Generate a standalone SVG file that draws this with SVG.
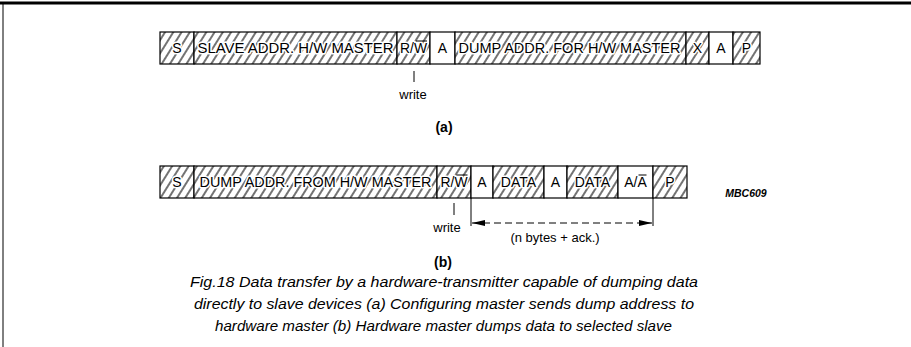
<svg xmlns="http://www.w3.org/2000/svg" width="911" height="347" viewBox="0 0 911 347">
<style>
.box{stroke:#000;stroke-width:1.2}
.h{fill:url(#hatch)}
.w{fill:#fff}
.t{font-family:"Liberation Sans",Arial,sans-serif;font-size:14px;fill:#000;text-anchor:middle;stroke:#fff;stroke-width:3;paint-order:stroke;stroke-linejoin:round}
.lbl{font-family:"Liberation Sans",Arial,sans-serif;font-size:13px;fill:#000;text-anchor:middle}
.b{font-weight:bold;font-size:14px}
.cap{font-family:"Liberation Sans",Arial,sans-serif;font-style:italic;font-size:14px;fill:#000;text-anchor:middle}
.ln{stroke:#000;stroke-width:1;fill:none}
.ov{stroke:#000;stroke-width:1}
</style>
<defs>
<pattern id="hatch" patternUnits="userSpaceOnUse" width="7" height="10" patternTransform="rotate(32)">
<rect width="7" height="10" fill="#fff"/>
<line x1="3" y1="0" x2="3" y2="10" stroke="#000" stroke-width="1.1"/>
</pattern>
<marker id="ah" markerWidth="14" markerHeight="8" refX="13" refY="4" orient="auto-start-reverse" markerUnits="userSpaceOnUse">
<path d="M0,1 L13,4 L0,7 Z" fill="#000"/>
</marker>
</defs>
<rect width="911" height="347" fill="#fff"/>
<g id="frame">
<line x1="0" y1="3" x2="911" y2="3" stroke="#000" stroke-width="3"/>
<line x1="3" y1="2" x2="3" y2="347" stroke="#000" stroke-width="1"/>
</g>
<g id="row-a">
<g id="a-S"><rect class="box h" x="160" y="32" width="34" height="32"/><text class="t" x="177" y="53">S</text></g>
<g id="a-slave"><rect class="box h" x="194" y="32" width="203" height="32"/><text class="t" x="295.5" y="53" textLength="196" lengthAdjust="spacingAndGlyphs">SLAVE ADDR. H/W MASTER</text></g>
<g id="a-rw"><rect class="box h" x="397" y="32" width="33" height="32"/><text class="t" x="413.5" y="53" textLength="27" lengthAdjust="spacingAndGlyphs">R/W</text><line class="ov" x1="416" y1="41" x2="427" y2="41"/></g>
<g id="a-A1"><rect class="box w" x="430" y="32" width="25" height="32"/><text class="t" x="442.5" y="53">A</text></g>
<g id="a-dump"><rect class="box h" x="455" y="32" width="231" height="32"/><text class="t" x="569.5" y="53" textLength="222" lengthAdjust="spacingAndGlyphs">DUMP ADDR. FOR H/W MASTER</text></g>
<g id="a-X"><rect class="box h" x="686" y="32" width="23" height="32"/><text class="t" x="697.5" y="53">X</text></g>
<g id="a-A2"><rect class="box w" x="709" y="32" width="24" height="32"/><text class="t" x="721" y="53">A</text></g>
<g id="a-P"><rect class="box h" x="733" y="32" width="27" height="32"/><text class="t" x="746.5" y="53">P</text></g>
</g>
<g id="row-b">
<g id="b-S"><rect class="box h" x="160" y="166" width="34" height="32"/><text class="t" x="177" y="187">S</text></g>
<g id="b-dump"><rect class="box h" x="194" y="166" width="243" height="32"/><text class="t" x="315.5" y="187" textLength="232" lengthAdjust="spacingAndGlyphs">DUMP ADDR. FROM H/W MASTER</text></g>
<g id="b-rw"><rect class="box h" x="437" y="166" width="34" height="32"/><text class="t" x="454" y="187" textLength="27" lengthAdjust="spacingAndGlyphs">R/W</text><line class="ov" x1="456.5" y1="175" x2="467.5" y2="175"/></g>
<g id="b-A1"><rect class="box w" x="471" y="166" width="22" height="32"/><text class="t" x="482" y="187">A</text></g>
<g id="b-D1"><rect class="box h" x="493" y="166" width="51" height="32"/><text class="t" x="518.5" y="187">DATA</text></g>
<g id="b-A2"><rect class="box w" x="544" y="166" width="23" height="32"/><text class="t" x="555.5" y="187">A</text></g>
<g id="b-D2"><rect class="box h" x="567" y="166" width="51" height="32"/><text class="t" x="592.5" y="187">DATA</text></g>
<g id="b-AA"><rect class="box w" x="618" y="166" width="35" height="32"/><text class="t" x="635.5" y="187">A/A</text><line class="ov" x1="638.5" y1="175" x2="646.5" y2="175"/></g>
<g id="b-P"><rect class="box h" x="653" y="166" width="34" height="32"/><text class="t" x="670" y="187">P</text></g>
</g>
<g id="connectors">
<line class="ln" x1="414" y1="71" x2="414" y2="82"/>
<line class="ln" x1="454" y1="203" x2="454" y2="215"/>
<line class="ln" x1="471" y1="198" x2="471" y2="226"/>
<line class="ln" x1="653" y1="198" x2="653" y2="226"/>
<line class="ln" x1="472" y1="223" x2="652" y2="223" stroke-dasharray="7,4" marker-start="url(#ah)" marker-end="url(#ah)"/>
</g>
<g id="labels">
<text class="lbl" x="413" y="99">write</text>
<text class="lbl b" x="444" y="132">(a)</text>
<text class="lbl" x="447" y="232">write</text>
<text class="lbl" x="555" y="242">(n bytes + ack.)</text>
<text class="lbl b" x="443" y="267">(b)</text>
<text class="lbl" x="746" y="197" style="font-style:italic;font-weight:bold;font-size:10.5px">MBC609</text>
<text class="cap" x="444" y="287" textLength="508" lengthAdjust="spacingAndGlyphs">Fig.18  Data transfer by a hardware-transmitter capable of dumping data</text>
<text class="cap" x="444" y="309" textLength="500" lengthAdjust="spacingAndGlyphs">directly to slave devices (a) Configuring master sends dump address to</text>
<text class="cap" x="443.5" y="331" textLength="457" lengthAdjust="spacingAndGlyphs">hardware master (b) Hardware master dumps data to selected slave</text>
</g>
</svg>
